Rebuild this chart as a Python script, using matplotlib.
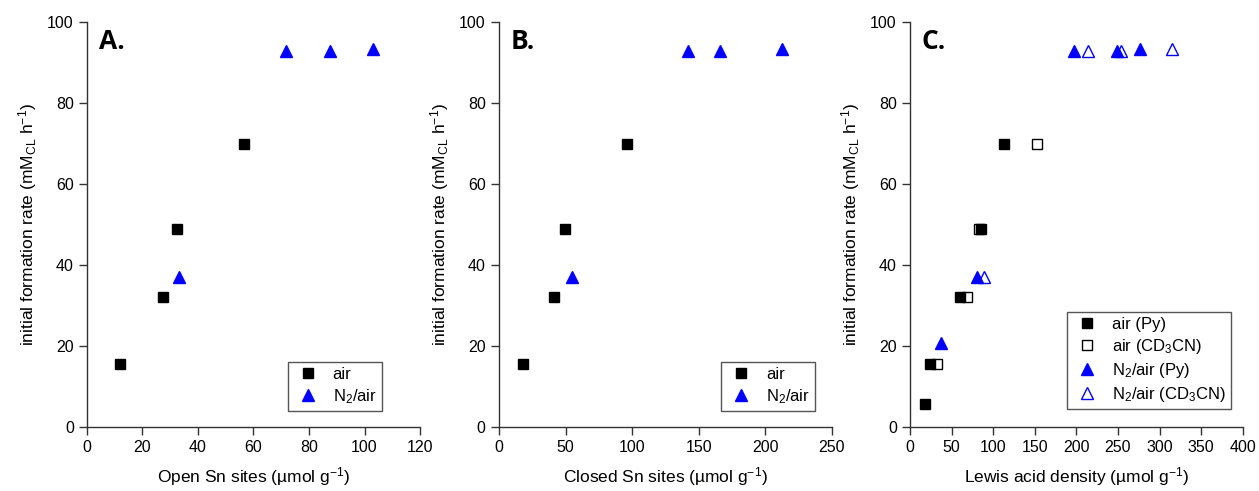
import matplotlib
matplotlib.use("Agg")
import matplotlib.pyplot as plt

plt.rcParams["font.family"] = ["Liberation Sans", "DejaVu Sans"]
plt.rcParams["mathtext.fontset"] = "custom"
plt.rcParams["mathtext.rm"] = "Liberation Sans"
plt.rcParams["mathtext.it"] = "Liberation Sans"

# Panel A: open Sn sites
open_air_x = [12, 27.5, 32.5, 56.5]
open_air_y = [15.6, 32.1, 48.9, 70.0]
open_n2_x = [33, 71.7, 87.6, 103]
open_n2_y = [37.0, 92.8, 92.8, 93.3]

# Panel B: closed Sn sites
closed_air_x = [18, 41.5, 49.5, 96.5]
closed_air_y = [15.6, 32.1, 48.9, 70.0]
closed_n2_x = [54.5, 142, 166, 212.5]
closed_n2_y = [37.0, 92.8, 92.8, 93.3]

# Panel C: Lewis acid density
lewis_air_py_x = [18, 24.5, 60, 85.5, 113]
lewis_air_py_y = [5.6, 15.6, 32.1, 48.9, 70.0]
lewis_air_cd_x = [32, 69, 82.5, 153]
lewis_air_cd_y = [15.6, 32.1, 48.9, 70.0]
lewis_n2_py_x = [37, 80, 197, 249, 277]
lewis_n2_py_y = [20.7, 37.0, 92.8, 92.8, 93.3]
lewis_n2_cd_x = [88.5, 213.5, 254, 315.5]
lewis_n2_cd_y = [37.0, 92.8, 92.8, 93.3]

ylabel = r"initial formation rate (mM$_{\mathregular{CL}}$ h$^{\mathregular{-1}}$)"

fig = plt.figure(figsize=(12.59, 4.91), dpi=100)
axA = fig.add_axes([0.0691, 0.1303, 0.2645, 0.8249])
axB = fig.add_axes([0.3963, 0.1303, 0.2645, 0.8249])
axC = fig.add_axes([0.7228, 0.1303, 0.2643, 0.8249])

ms = 7

def style(ax, xmax, xstep, xlabel, letter):
    ax.set_xlim(0, xmax)
    ax.set_ylim(0, 100)
    ax.set_xticks(range(0, xmax + 1, xstep))
    ax.set_yticks(range(0, 101, 20))
    ax.spines["top"].set_visible(False)
    ax.spines["right"].set_visible(False)
    for s in ("left", "bottom"):
        ax.spines[s].set_linewidth(1.0)
        ax.spines[s].set_color("#333333")
    ax.tick_params(direction="out", length=6, width=1.0, labelsize=11.5, colors="#333333",
                   labelcolor="black")
    ax.set_xlabel(xlabel, fontsize=12.5, labelpad=7)
    ax.set_ylabel(ylabel, fontsize=12.5, labelpad=6)
    ax.text(0.035, 0.985, letter, transform=ax.transAxes, fontsize=19, fontweight="bold",
            family=["Open Sans", "DejaVu Sans"], va="top", ha="left")

def legend(ax, anchor):
    leg = ax.legend(loc="lower right", bbox_to_anchor=anchor, fontsize=12, fancybox=False,
                    framealpha=1, edgecolor="#555555", handletextpad=0.6, borderpad=0.3,
                    labelspacing=0.3, handlelength=1.8)
    leg.get_frame().set_linewidth(1.0)

# A
axA.plot(open_air_x, open_air_y, "s", color="black", ms=ms, label="air")
axA.plot(open_n2_x, open_n2_y, "^", color="blue", ms=ms + 1.5, label=r"N$_2$/air")
style(axA, 120, 20, r"Open Sn sites (µmol g$^{\mathregular{-1}}$)", "A.")
legend(axA, (0.91, 0.02))

# B
axB.plot(closed_air_x, closed_air_y, "s", color="black", ms=ms, label="air")
axB.plot(closed_n2_x, closed_n2_y, "^", color="blue", ms=ms + 1.5, label=r"N$_2$/air")
style(axB, 250, 50, r"Closed Sn sites (µmol g$^{\mathregular{-1}}$)", "B.")
legend(axB, (0.975, 0.02))

# C
axC.plot(lewis_air_py_x, lewis_air_py_y, "s", color="black", ms=ms, label="air (Py)")
axC.plot(lewis_air_cd_x, lewis_air_cd_y, "s", mfc="none", mec="black", mew=1.0, ms=ms,
         label=r"air (CD$_3$CN)")
axC.plot(lewis_n2_py_x, lewis_n2_py_y, "^", color="blue", ms=ms + 1.5, label=r"N$_2$/air (Py)")
axC.plot(lewis_n2_cd_x, lewis_n2_cd_y, "^", mfc="none", mec="blue", mew=1.0, ms=ms + 1.5,
         label=r"N$_2$/air (CD$_3$CN)")
style(axC, 400, 50, r"Lewis acid density (µmol g$^{\mathregular{-1}}$)", "C.")
legend(axC, (0.99, 0.025))

fig.savefig("out.png", dpi=100)
